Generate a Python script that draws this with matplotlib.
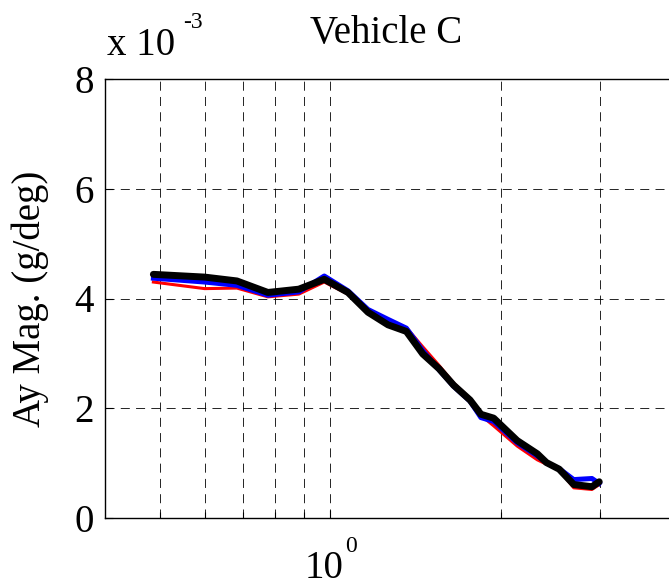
import numpy as np
import matplotlib
matplotlib.use("Agg")
import matplotlib.pyplot as plt
import matplotlib.transforms as mtransforms
from matplotlib.ticker import FixedLocator, NullFormatter, FixedFormatter

## fonts: Times-like look
plt.rcParams['font.family'] = ['Liberation Serif', 'DejaVu Serif']
plt.rcParams['lines.scale_dashes'] = False

## data (frequency in Hz, magnitude in 1e-3 g/deg)
freq = [0.487, 0.60, 0.684, 0.776, 0.880, 0.976, 1.075, 1.166, 1.265, 1.363, 1.457, 1.557,
        1.652, 1.766, 1.846, 1.944, 2.140, 2.322, 2.410, 2.538, 2.693, 2.900, 2.987]
mag_red = [4.30, 4.18, 4.19, 4.03, 4.08, 4.30, 4.08, 3.72, 3.55, 3.47, 3.12, 2.78,
           2.46, 2.18, 1.87, 1.68, 1.31, 1.06, 0.98, 0.88, 0.55, 0.52, 0.61]
mag_blue = [4.37, 4.30, 4.24, 4.06, 4.12, 4.41, 4.14, 3.80, 3.62, 3.46, 3.05, 2.70,
            2.40, 2.13, 1.83, 1.76, 1.37, 1.13, 1.01, 0.90, 0.70, 0.72, 0.63]
mag_black = [4.44, 4.39, 4.32, 4.11, 4.17, 4.35, 4.11, 3.75, 3.52, 3.40, 2.99, 2.72,
             2.42, 2.15, 1.89, 1.82, 1.41, 1.17, 1.01, 0.89, 0.61, 0.57, 0.66]

y_ticks = [0, 2, 4, 6, 8]
x_major = [1.0]
x_minor = [0.5, 0.6, 0.7, 0.8, 0.9, 2, 3]

fig = plt.figure(figsize=(6.69, 5.87), dpi=100)
ax = fig.add_axes([105 / 669, 69 / 587, 566 / 669, 439 / 587])

ax.plot(freq, mag_red, color='red', lw=2.2, solid_joinstyle='round')
ax.plot(freq, mag_blue, color='blue', lw=3.6, solid_joinstyle='round')
ax.plot(freq, mag_black, color='black', lw=5.0, solid_joinstyle='round', solid_capstyle='round')

ax.set_xscale('log')
ax.set_xlim(0.4, 4.0)
ax.set_ylim(0, 8)

## x tick label "10" with the exponent drawn as a raised small "0"
ax.xaxis.set_major_locator(FixedLocator(x_major))
ax.xaxis.set_major_formatter(FixedFormatter(['10']))
ax.xaxis.set_minor_locator(FixedLocator(x_minor))
ax.xaxis.set_minor_formatter(NullFormatter())
ax.set_yticks(y_ticks)
ax.set_yticklabels([str(v) for v in y_ticks])

ax.tick_params(which='both', direction='in', labelsize=28, width=0.8)
ax.tick_params(axis='y', which='major', length=6, pad=8)
ax.tick_params(axis='x', which='major', length=6, pad=23)
ax.tick_params(which='minor', length=4)

## shift "10" a bit left so that "10" + exponent is centred on the tick
shift = mtransforms.ScaledTranslation(-6 / 100, 0, fig.dpi_scale_trans)
for lbl in ax.xaxis.get_majorticklabels():
    lbl.set_transform(lbl.get_transform() + shift)
ax.annotate('0', xy=(1.0, 0), xycoords=('data', 'axes fraction'),
            xytext=(11, -24.5), textcoords='offset points', fontsize=17,
            ha='left', va='baseline')

dash = (0, (6.5, 4.5))
ax.grid(True, which='both', axis='x', color='black', lw=0.6, linestyle=dash)
ax.grid(True, which='major', axis='y', color='black', lw=0.6, linestyle=dash)
for s in ax.spines.values():
    s.set_linewidth(1.0)

fig.text(386 / 669, 1 - 43 / 587, 'Vehicle C', fontsize=28, ha='center', va='baseline')
ax.set_ylabel('Ay Mag. (g/deg)', fontsize=28, labelpad=18)
fig.text(107 / 669, 1 - 55 / 587, 'x 10', fontsize=28, ha='left', va='baseline')
fig.text(183 / 669, 1 - 28 / 587, '-3', fontsize=17, ha='left', va='baseline')

fig.savefig('out.png', dpi=100)
